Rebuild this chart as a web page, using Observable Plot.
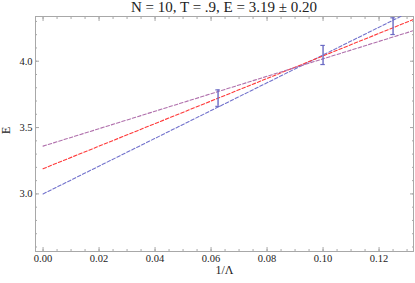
<!DOCTYPE html>
<html><head><meta charset="utf-8">
<script src="https://cdn.jsdelivr.net/npm/d3@7"></script>
<script src="https://cdn.jsdelivr.net/npm/@observablehq/plot@0.6"></script>
<style>
body{margin:0;background:#fff;font-family:"Liberation Serif","Times New Roman",serif;}
#title{height:14px;line-height:14px;font-size:15px;margin-left:35px;width:378px;text-align:center;color:#222;white-space:nowrap}
</style></head><body>
<div id="title">N = 10, T = .9, E = 3.19 ± 0.20</div>
<div id="chart"></div>
<script>
// data points with error bars
const invLambda = [0.0625, 0.1, 0.125];
const energy = [3.722, 4.047, 4.264];
const errors = [0.062, 0.072, 0.063];
// linear fits: E = intercept + slope * (1/Λ)
const fitNames = ["blue", "red", "purple"];
const intercepts = [3.00, 3.19, 3.36];
const slopes = [10.47, 8.50, 6.58];
const fitColors = ["#7272cc", "#ff3a3a", "#b070ac"];
// ticks
const xTicks = [0, 0.02, 0.04, 0.06, 0.08, 0.10, 0.12];
const yTicks = [3.0, 3.5, 4.0];
const xDomain = [-0.0027, 0.1323];
const yDomain = [2.566, 4.337];

const xMinor = d3.range(0, 27).map(i => +(i * 0.005).toFixed(3));
const yMinor = d3.range(26, 44).map(i => +(i * 0.1).toFixed(1));

const points = invLambda.map((x, i) => ({x, e: energy[i], err: errors[i]}));
const fitLines = [];
fitNames.forEach((name, i) => {
  [0, xDomain[1]].forEach(x => fitLines.push({name, x, e: intercepts[i] + slopes[i] * x}));
});
const capHalf = 0.0008;

const gray = "#a8a8a8";
const plot = Plot.plot({
  width: 415,
  height: 269,
  marginTop: 2,
  marginBottom: 32,
  marginLeft: 35,
  marginRight: 2,
  style: {fontFamily: "'Liberation Serif', 'Times New Roman', serif", fontSize: "10.5px", color: "#222", background: "#fff"},
  x: {domain: xDomain},
  y: {domain: yDomain},
  marks: [
    Plot.frame({stroke: gray}),
    // minor ticks
    Plot.axisX({ticks: xMinor, tickSize: -2, tickFormat: () => "", stroke: gray, label: null}),
    Plot.axisX({ticks: xMinor, anchor: "top", tickSize: -2, tickFormat: () => "", stroke: gray, label: null}),
    Plot.axisY({ticks: yMinor, tickSize: -2, tickFormat: () => "", stroke: gray, label: null}),
    Plot.axisY({ticks: yMinor, anchor: "right", tickSize: -2, tickFormat: () => "", stroke: gray, label: null}),
    // major ticks
    Plot.axisX({ticks: xTicks, tickSize: -4, tickFormat: () => "", stroke: gray, label: null}),
    Plot.axisX({ticks: xTicks, anchor: "top", tickSize: -4, tickFormat: () => "", stroke: gray, label: null}),
    Plot.axisY({ticks: yTicks, tickSize: -4, tickFormat: () => "", stroke: gray, label: null}),
    Plot.axisY({ticks: yTicks, anchor: "right", tickSize: -4, tickFormat: () => "", stroke: gray, label: null}),
    // labels
    Plot.axisX({ticks: xTicks, tickSize: 0, tickPadding: 3, tickFormat: d3.format(".2f"), label: null, fill: "#222"}),
    Plot.axisY({ticks: yTicks, tickSize: 0, tickPadding: 3, tickFormat: d3.format(".1f"), label: null, fill: "#222"}),
    Plot.text(["1/Λ"], {frameAnchor: "bottom", dy: 22, fontSize: 12, fill: "#222"}),
    Plot.text(["E"], {frameAnchor: "left", dx: -29, rotate: -90, fontSize: 12, fill: "#222"}),
    // fit lines
    Plot.line(fitLines, {x: "x", y: "e", z: "name", stroke: d => fitColors[fitNames.indexOf(d.name)], strokeWidth: 1.1, strokeDasharray: "3.5,2", clip: true}),
    // error bars
    Plot.ruleX(points, {x: "x", y1: d => d.e - d.err, y2: d => d.e + d.err, stroke: "#6a6ac4", strokeWidth: 1.4}),
    Plot.ruleY(points, {y: d => d.e - d.err, x1: d => d.x - capHalf, x2: d => d.x + capHalf, stroke: "#6a6ac4", strokeWidth: 1.2}),
    Plot.ruleY(points, {y: d => d.e + d.err, x1: d => d.x - capHalf, x2: d => d.x + capHalf, stroke: "#6a6ac4", strokeWidth: 1.2})
  ]
});
document.getElementById("chart").appendChild(plot);
</script>
</body></html>
